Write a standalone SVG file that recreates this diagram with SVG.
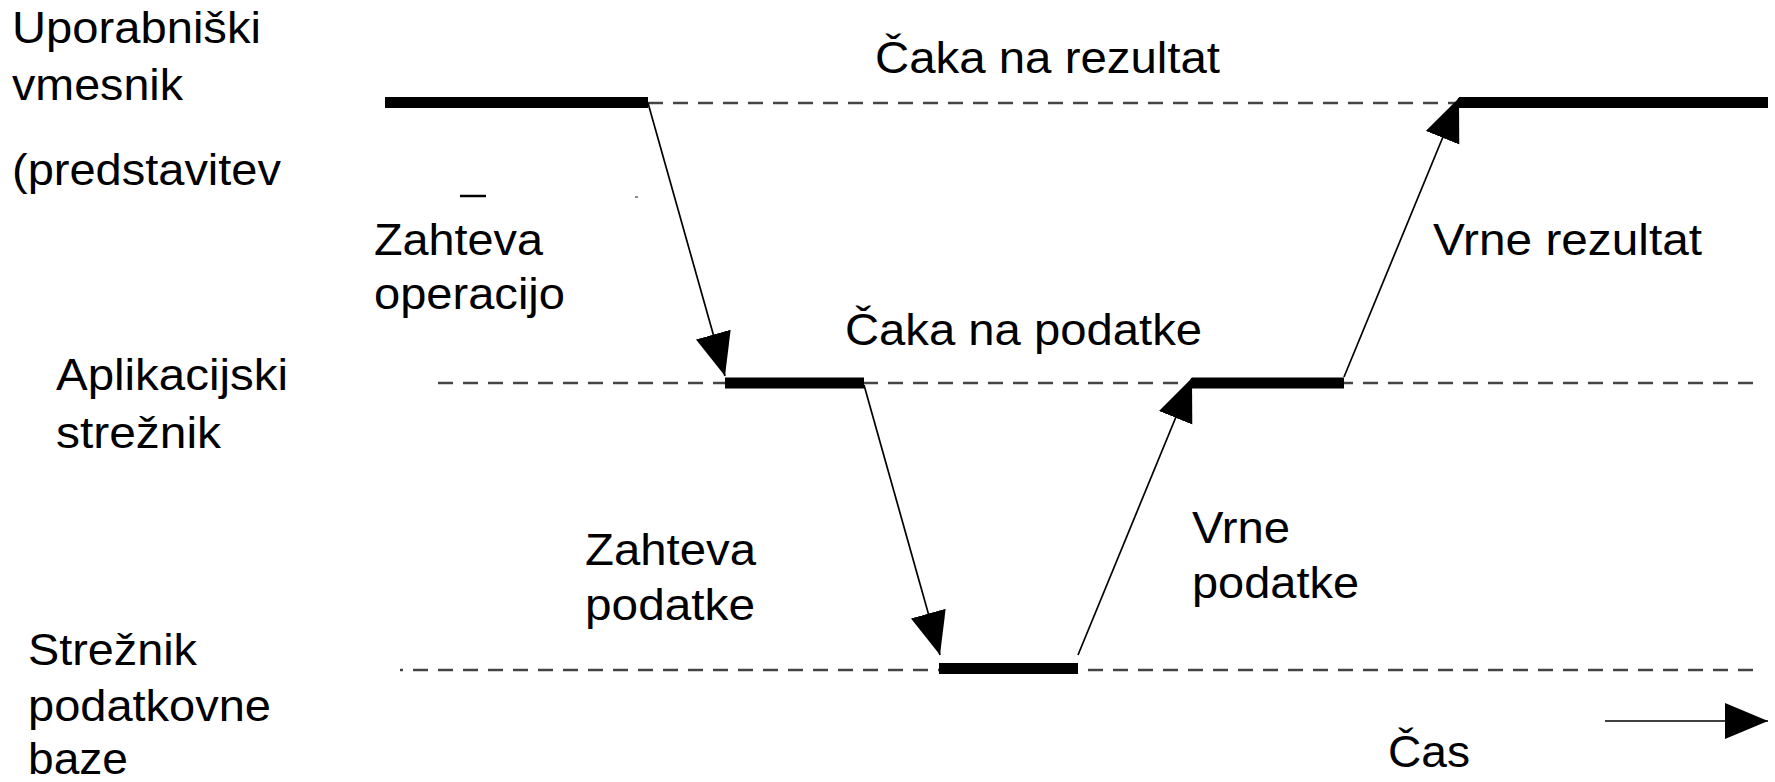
<svg xmlns="http://www.w3.org/2000/svg" width="1775" height="782" viewBox="0 0 1775 782">
<style>
text{font-family:"Liberation Sans",Arial,sans-serif;font-size:44px;fill:#000}
.dash{stroke:#444;stroke-width:2.6;stroke-dasharray:15 10;fill:none}
.bar{stroke:#000;stroke-width:11;fill:none}
.msg{stroke:#000;stroke-width:1.7;fill:none;marker-end:url(#head)}
</style>
<defs>
<marker id="head" markerUnits="userSpaceOnUse" markerWidth="46" markerHeight="40" refX="43" refY="18" orient="auto">
<path d="M0,0 L43,18 L0,36 Z" fill="#000"/>
</marker>
</defs>

<g id="lane-lines">
<line class="dash" x1="648" y1="103" x2="1459" y2="103"/>
<line class="dash" x1="438" y1="383" x2="1762" y2="383"/>
<line class="dash" x1="400" y1="670" x2="1762" y2="670" stroke-dashoffset="12"/>
</g>

<g id="lane-ui">
<text x="12" y="43" textLength="249" lengthAdjust="spacingAndGlyphs">Uporabniški</text>
<text x="12" y="100" textLength="171" lengthAdjust="spacingAndGlyphs">vmesnik</text>
<text x="12" y="185" textLength="269" lengthAdjust="spacingAndGlyphs">(predstavitev</text>
<line x1="460" y1="196" x2="486" y2="196" stroke="#000" stroke-width="2.5"/>
<line x1="635" y1="197" x2="638" y2="197" stroke="#666" stroke-width="1.5"/>
</g>
<g id="lane-app">
<text x="56" y="390" textLength="232" lengthAdjust="spacingAndGlyphs">Aplikacijski</text>
<text x="56" y="448" textLength="165" lengthAdjust="spacingAndGlyphs">strežnik</text>
</g>
<g id="lane-db">
<text x="28" y="665" textLength="169" lengthAdjust="spacingAndGlyphs">Strežnik</text>
<text x="28" y="721" textLength="243" lengthAdjust="spacingAndGlyphs">podatkovne</text>
<text x="28" y="774" textLength="100" lengthAdjust="spacingAndGlyphs">baze</text>
</g>

<g id="bar-ui-1"><line class="bar" x1="385" y1="102.5" x2="648" y2="102.5"/></g>
<g id="bar-ui-2"><line class="bar" x1="1459" y1="102.5" x2="1768" y2="102.5"/></g>
<g id="bar-app-1"><line class="bar" x1="725" y1="383" x2="864" y2="383"/></g>
<g id="bar-app-2"><line class="bar" x1="1192" y1="383" x2="1344" y2="383"/></g>
<g id="bar-db"><line class="bar" x1="939" y1="668.5" x2="1078" y2="668.5"/></g>

<g id="connectors">
<line class="msg" x1="648" y1="103" x2="725" y2="376"/>
<line class="msg" x1="864" y1="385" x2="940" y2="655"/>
<line class="msg" x1="1078" y1="655" x2="1192" y2="378"/>
<line class="msg" x1="1344" y1="377" x2="1459" y2="98"/>
<line class="msg" x1="1605" y1="721" x2="1768" y2="721" stroke-width="2.5"/>
</g>

<g id="labels">
<text x="875" y="73" textLength="345" lengthAdjust="spacingAndGlyphs">Čaka na rezultat</text>
<text x="845" y="345" textLength="357" lengthAdjust="spacingAndGlyphs">Čaka na podatke</text>
<text x="374" y="255" textLength="169" lengthAdjust="spacingAndGlyphs">Zahteva</text>
<text x="374" y="309" textLength="191" lengthAdjust="spacingAndGlyphs">operacijo</text>
<text x="585" y="565" textLength="171" lengthAdjust="spacingAndGlyphs">Zahteva</text>
<text x="585" y="620" textLength="170" lengthAdjust="spacingAndGlyphs">podatke</text>
<text x="1192" y="543" textLength="98" lengthAdjust="spacingAndGlyphs">Vrne</text>
<text x="1192" y="598" textLength="167" lengthAdjust="spacingAndGlyphs">podatke</text>
<text x="1433" y="255" textLength="269" lengthAdjust="spacingAndGlyphs">Vrne rezultat</text>
<text x="1388" y="767" textLength="82" lengthAdjust="spacingAndGlyphs">Čas</text>
</g>
</svg>
